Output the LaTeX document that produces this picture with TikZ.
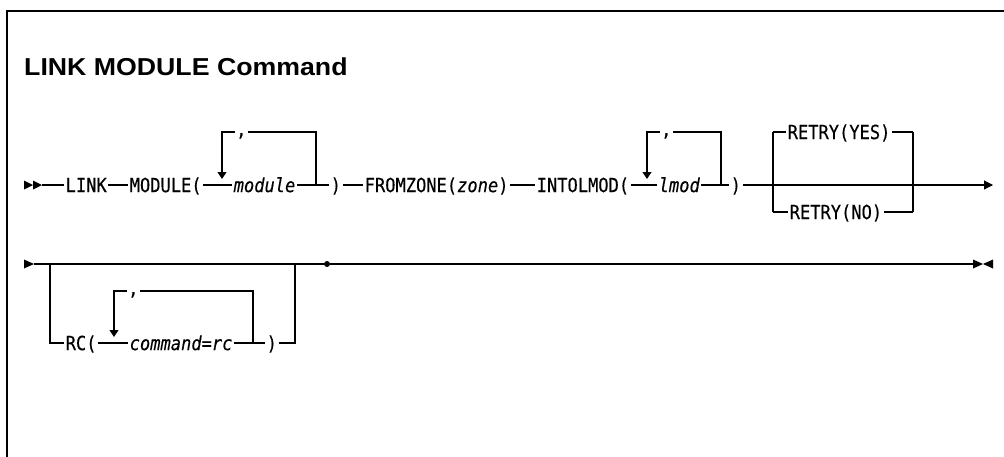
\documentclass[tikz,border=0pt]{standalone}
\usepackage{fontspec}
\usetikzlibrary{arrows.meta}
\newfontfamily\synfont[FakeStretch=0.875,FakeBold=0.3]{DejaVu Sans Mono}
\newfontfamily\titlefont[FakeStretch=1.09]{Liberation Sans}
\tikzset{
  kw/.style={font=\synfont\fontsize{19.5}{23}\selectfont, inner xsep=1.5pt, inner ysep=0pt,
             text height=18pt, text depth=3.8pt, anchor=west},
  var/.style={kw, font=\synfont\fontsize{19.5}{23}\selectfont\itshape},
  sep/.style={font=\synfont\fontsize{19.5}{23}\selectfont, inner xsep=1pt, inner ysep=0pt,
             text height=10pt, text depth=2pt, anchor=west},
  rail/.style={line width=1.1pt},
  looptip/.style={rail, -{Triangle[width=9pt,length=7pt]}},
  endtip/.style={rail, -{Triangle[width=9pt,length=9pt]}},
  frame/.style={line width=1.8pt},
  ttl/.style={font=\titlefont\bfseries\fontsize{24.5}{28}\selectfont, inner sep=0pt, anchor=base west},
  dotnode/.style={circle, fill, inner sep=0pt, minimum size=6pt},
}
\begin{document}
\begin{tikzpicture}[x=1pt,y=-1pt]
\useasboundingbox (0,0) rectangle (1004,456);
% frame
\coordinate (fbl) at (7,460);
\coordinate (ftl) at (7,11);
\coordinate (ftr) at (1008,11);
\draw[frame] (fbl) -- (ftl) -- (ftr);
% title
\node[ttl] (title) at (24,75) {LINK MODULE Command};

%================ row 1 =================
\coordinate (s1) at (42,185);
\fill (24,180.5) -- (33,185) -- (24,189.5) -- cycle;
\fill (33,180.5) -- (42,185) -- (33,189.5) -- cycle;

\node[kw] (link) at (64,185) {LINK};
\node[kw] (module) at (128,185) {MODULE(};
\node[var] (modvar) at (232,185) {module};
\node[kw] (rp1) at (329,185) {)};
\node[kw] (fromzone) at (363,185) {FROMZONE(\itshape zone\upshape)};
\node[kw] (intolmod) at (535,185) {INTOLMOD(};
\node[var] (lmod) at (657,185) {lmod};
\node[kw] (rp2) at (729,185) {)};
\coordinate (e1) at (993,185);

\draw[rail] (s1) -- (link);
\draw[rail] (link) -- (module);
\draw[rail] (module) -- (modvar);
\draw[rail] (modvar) -- (rp1);
\draw[rail] (rp1) -- (fromzone);
\draw[rail] (fromzone) -- (intolmod);
\draw[rail] (intolmod) -- (lmod);
\draw[rail] (lmod) -- (rp2);
\draw[endtip] (rp2) -- (e1);

% repeat loop over module
\coordinate (l1tl) at (222,132);
\coordinate (l1tr) at (316,132);
\coordinate (l1r) at (316,185);
\coordinate (l1a) at (222,179);
\node[sep] (c1) at (235,132) {,};
\draw[rail] (l1r) -- (l1tr) -- (c1);
\draw[looptip] (c1) -- (l1tl) -- (l1a);

% repeat loop over lmod
\coordinate (l2tl) at (647,132);
\coordinate (l2tr) at (721,132);
\coordinate (l2r) at (721,185);
\coordinate (l2a) at (647,179);
\node[sep] (c2) at (660,132) {,};
\draw[rail] (l2r) -- (l2tr) -- (c2);
\draw[looptip] (c2) -- (l2tl) -- (l2a);

% RETRY choice
\coordinate (r1l) at (773,185);
\coordinate (r1r) at (913,185);
\coordinate (r1tl) at (773,132);
\coordinate (r1tr) at (913,132);
\coordinate (r1bl) at (773,212);
\coordinate (r1br) at (913,212);
\node[kw] (yes) at (786,132) {RETRY(YES)};
\node[kw] (no) at (788,212) {RETRY(NO)};
\draw[rail] (r1tl) -- (r1bl);
\draw[rail] (r1tr) -- (r1br);
\draw[rail] (r1tl) -- (yes);
\draw[rail] (yes) -- (r1tr);
\draw[rail] (r1bl) -- (no);
\draw[rail] (no) -- (r1br);

%================ row 2 =================
\coordinate (s2) at (34,264);
\fill (24,259.5) -- (34,264) -- (24,268.5) -- cycle;
\node[dotnode] (dot) at (327,264) {};
\coordinate (e2) at (973,264);
\fill (973,259.5) -- (983,264) -- (973,268.5) -- cycle;
\fill (993,259.5) -- (983,264) -- (993,268.5) -- cycle;
\draw[rail] (s2) -- (dot);
\draw[rail] (dot) -- (e2);

% optional RC
\coordinate (b2l) at (50,264);
\coordinate (b2r) at (295,264);
\coordinate (b2bl) at (50,343);
\coordinate (b2br) at (295,343);
\node[kw] (rc) at (64,343) {RC(};
\node[var] (cmd) at (128,343) {command=rc};
\node[kw] (rp3) at (265,343) {)};
\draw[rail] (b2l) -- (b2bl) -- (rc);
\draw[rail] (rc) -- (cmd);
\draw[rail] (cmd) -- (rp3);
\draw[rail] (rp3) -- (b2br) -- (b2r);

% repeat loop over command=rc
\coordinate (l3tl) at (114,291);
\coordinate (l3tr) at (253,291);
\coordinate (l3r) at (253,343);
\coordinate (l3a) at (114,337);
\node[sep] (c3) at (127,291) {,};
\draw[rail] (l3r) -- (l3tr) -- (c3);
\draw[looptip] (c3) -- (l3tl) -- (l3a);
\end{tikzpicture}
\end{document}
